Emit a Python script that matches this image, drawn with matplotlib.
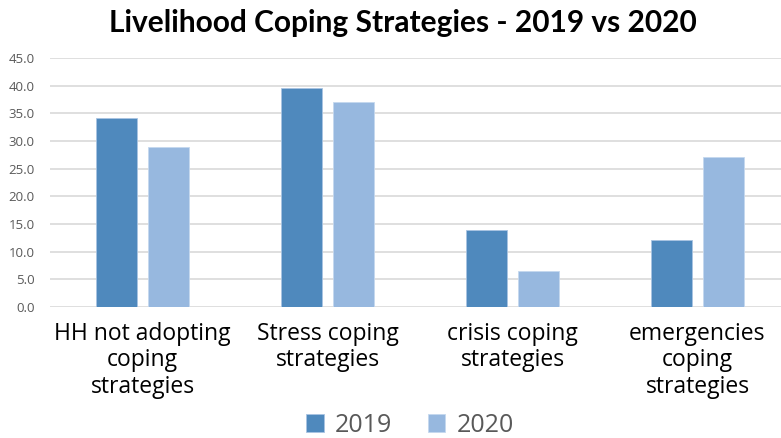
import numpy as np
import matplotlib.pyplot as plt

categories = ["HH not adopting\ncoping\nstrategies", "Stress coping\nstrategies",
              "crisis coping\nstrategies", "emergencies\ncoping\nstrategies"]
y2019 = [34.2, 39.5, 14.0, 12.1]
y2020 = [29.0, 37.1, 6.5, 27.1]
yticks = np.arange(0, 50, 5)

c2019 = "#4f89bd"
c2020 = "#97b8df"

fig = plt.figure(figsize=(7.81, 4.38), dpi=100)
ax = fig.add_axes([50 / 781, 1 - 307 / 438, 1 - 50 / 781, 249 / 438])

x = np.arange(len(categories))
w = 0.222
ax.bar(x - 0.14, y2019, w, color=c2019, edgecolor="#a9c4e2", linewidth=0.6, label="2019", zorder=3)
ax.bar(x + 0.14, y2020, w, color=c2020, edgecolor="#c5d8ee", linewidth=0.6, label="2020", zorder=3)

ax.set_xlim(-0.5, -0.5 + 731 / 185)
ax.set_ylim(0, 45)
ax.set_yticks(yticks)
ax.set_yticklabels([f"{v:.1f}" for v in yticks], fontsize=9.5, color="#595959", family="Open Sans")
ax.yaxis.grid(True, color="#d9d9d9", linewidth=1.2, zorder=0)
ax.tick_params(axis="y", length=0, pad=11)
ax.tick_params(axis="x", length=0, pad=11)
ax.set_xticks(x)
ax.set_xticklabels(categories, fontsize=16.5, color="#000000", family="Open Sans", linespacing=1.12)
for s in ax.spines.values():
    s.set_visible(False)

fig.text(403 / 781, 1 - 23 / 438, "Livelihood Coping Strategies - 2019 vs 2020", ha="center", va="center",
         fontsize=21.5, fontweight="bold", family="Lato")

leg = fig.legend(loc="center", bbox_to_anchor=(410 / 781, 1 - 425 / 438), ncol=2, frameon=False,
                 prop={"family": "Open Sans", "size": 18}, handlelength=0.7, handleheight=0.7,
                 handletextpad=0.45, columnspacing=1.4, borderpad=0.1)
for t in leg.get_texts():
    t.set_color("#595959")

fig.savefig("out.png", dpi=100)
